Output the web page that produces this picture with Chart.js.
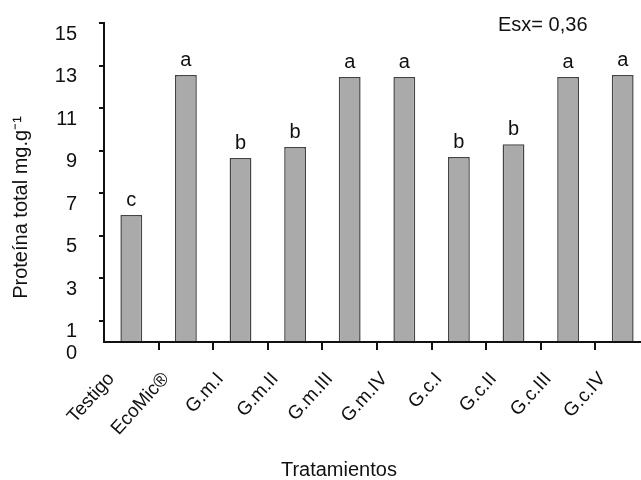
<!DOCTYPE html>
<html>
<head>
<meta charset="utf-8">
<script src="https://cdn.jsdelivr.net/npm/chart.js@4.4.1/dist/chart.umd.min.js"></script>
<style>
  html, body { margin: 0; padding: 0; overflow: hidden; background: #fff; }
  #contenedor { width: 660px; height: 480px; }
</style>
</head>
<body>
<div id="contenedor"><canvas id="graficaProteina" width="660" height="480"></canvas></div>
<script>
// datos
const tratamientos = ['Testigo', 'EcoMic®', 'G.m.I', 'G.m.II', 'G.m.III', 'G.m.IV', 'G.c.I', 'G.c.II', 'G.c.III', 'G.c.IV'];
const proteinaTotal = [5.97, 12.55, 8.65, 9.17, 12.46, 12.46, 8.7, 9.3, 12.46, 12.55];
const letras = ['c', 'a', 'b', 'b', 'a', 'a', 'b', 'b', 'a', 'a'];
const marcasY = [0, 1, 3, 5, 7, 9, 11, 13, 15];
const textoEsx = 'Esx= 0,36';

const fuente = '"Liberation Sans", Arial, Helvetica, sans-serif';
const negro = '#111111';
const transparente = 'rgba(0,0,0,0)';

Chart.defaults.font.family = fuente;
Chart.defaults.color = negro;

// letras de significacion sobre cada barra y el Esx
const letrasPlugin = {
    id: 'letras',
    afterDatasetsDraw(chart) {
        const ctx = chart.ctx;
        const meta = chart.getDatasetMeta(0);
        ctx.save();
        ctx.font = '20px ' + fuente;
        ctx.fillStyle = negro;
        ctx.textAlign = 'center';
        ctx.textBaseline = 'alphabetic';
        meta.data.forEach((barra, i) => {
            ctx.fillText(letras[i], barra.x, barra.y - 9);
        });
        ctx.textAlign = 'left';
        ctx.fillText(textoEsx, 498, 31);
        ctx.restore();
    }
};

const ctx = document.getElementById('graficaProteina').getContext('2d');
const grafica = new Chart(ctx, {
    type: 'bar',
    data: {
        labels: tratamientos,
        datasets: [{
            data: proteinaTotal,
            backgroundColor: '#aaaaaa',
            borderColor: '#444444',
            borderWidth: 1.5,
            categoryPercentage: 1,
            barPercentage: 0.4
        }]
    },
    options: {
        responsive: false,
        animation: false,
        layout: {
            padding: { top: 23, right: 10, left: 0, bottom: 0 }
        },
        plugins: {
            legend: { display: false },
            tooltip: { enabled: false },
            title: {
                display: true,
                position: 'bottom',
                // espacios delante para correr el titulo como en la figura
                text: '     Tratamientos',
                color: negro,
                font: { size: 20, weight: 'normal', lineHeight: 1 },
                padding: { top: 6, bottom: 0 }
            }
        },
        scales: {
            y: {
                min: 0,
                max: 15,
                afterBuildTicks: function (scale) {
                    scale.ticks = marcasY.map(v => ({ value: v }));
                },
                afterFit: function (scale) {
                    scale.width = 104;
                    scale.paddingTop = 0;
                    scale.paddingBottom = 0;
                },
                grid: {
                    drawOnChartArea: false,
                    drawTicks: true,
                    tickLength: 5,
                    lineWidth: 2,
                    color: c => (c.tick && c.tick.value === 0) ? transparente : negro
                },
                border: { display: true, color: negro, width: 2 },
                ticks: {
                    color: negro,
                    font: { size: 20 },
                    padding: 22,
                    labelOffset: 11
                },
                title: {
                    display: true,
                    // espacios al final para bajar el titulo como en la figura
                    text: 'Proteína total mg.g⁻¹         ',
                    color: negro,
                    font: { size: 20 },
                    padding: { top: 9, bottom: 0 }
                }
            },
            x: {
                afterFit: function (scale) {
                    scale.height = 112;
                    scale.paddingLeft = 0;
                    scale.paddingRight = 0;
                },
                grid: {
                    offset: true,
                    drawOnChartArea: false,
                    drawTicks: true,
                    tickLength: 8,
                    lineWidth: 2,
                    color: c => c.index === 0 ? transparente : negro
                },
                border: { display: true, color: negro, width: 2 },
                ticks: {
                    color: negro,
                    font: { size: 19 },
                    autoSkip: false,
                    maxRotation: 48,
                    minRotation: 48,
                    labelOffset: -20,
                    padding: 18
                }
            }
        }
    },
    plugins: [letrasPlugin]
});
</script>
</body>
</html>
